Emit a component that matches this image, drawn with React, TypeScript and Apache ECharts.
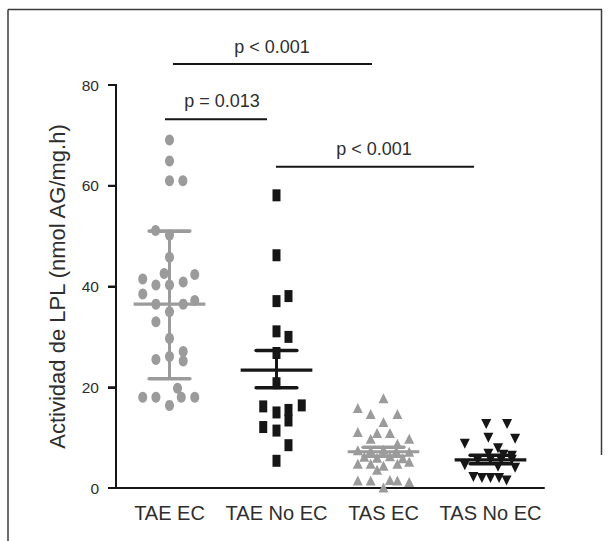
import React, { useEffect, useRef } from "react";
import * as echarts from "echarts";

const categories = ["TAE EC", "TAE No EC", "TAS EC", "TAS No EC"];
const yTicks = [0, 20, 40, 60, 80];

// TAE EC (grey circles)
const taeEcValues = [69.1, 64.9, 61.0, 61.0, 51.1, 50.2, 45.8, 42.6, 42.4, 41.5, 40.3, 40.3, 40.9, 38.5, 36.5, 36.5, 37.2, 35.0, 33.0, 29.7, 25.5, 26.1, 27.1, 25.2, 18.0, 18.0, 19.8, 18.0, 18.0, 16.4];
const taeEcJitter = [0, 0, 0, 0.125, -0.13, 0, 0, -0.05, 0.236, -0.25, -0.127, 0, 0.128, -0.25, -0.127, 0.128, 0.236, 0, -0.127, 0, -0.127, 0, 0.128, 0.128, -0.25, -0.127, 0.075, 0.11, 0.236, 0];

// TAE No EC (black squares)
const taeNoEcValues = [58.1, 46.2, 37.1, 38.1, 31.1, 30.0, 26.8, 20.8, 16.2, 15.0, 15.5, 13.4, 16.4, 12.1, 11.4, 8.5, 5.4];
const taeNoEcJitter = [0, 0, 0, 0.112, 0, 0.112, 0, 0, -0.124, 0, 0.112, 0.112, 0.236, -0.124, 0, 0.112, 0];

// TAS EC (grey triangles)
const tasEcValues = [17.8, 15.9, 14.7, 14.7, 13.1, 11.1, 10.9, 10.9, 9.8, 9.8, 8.8, 7.5, 7.4, 7.6, 7.3, 7.2, 6.2, 6.0, 6.3, 5.9, 4.8, 4.8, 4.4, 4.8, 5.2, 3.6, 1.5, 1.5, 1.6, 1.5, 1.2, 0.1];
const tasEcJitter = [0, -0.24, -0.12, 0.13, 0, -0.24, -0.06, 0.06, -0.12, 0.24, 0.13, -0.24, -0.12, 0, 0.12, 0.24, -0.18, -0.06, 0.06, 0.18, -0.24, -0.12, 0, 0.13, 0.24, -0.06, -0.24, -0.12, 0.06, 0.13, 0.24, 0];

// TAS No EC (black inverted triangles)
const tasNoEcValues = [12.7, 12.7, 10.0, 9.8, 8.8, 7.9, 6.8, 6.6, 6.4, 5.5, 5.6, 5.5, 5.6, 4.5, 4.0, 4.2, 2.2, 2.0, 2.0, 2.0, 1.5];
const tasNoEcJitter = [-0.04, 0.155, -0.02, 0.23, -0.24, 0.07, -0.02, 0.12, 0.2, -0.12, 0, 0.1, 0.2, -0.24, 0.23, 0.07, -0.16, -0.08, 0, 0.08, 0.15];

// mean and error bars
const meanValues = [36.5, 23.4, 7.2, 5.6];
const lowerValues = [21.7, 19.9, 6.3, 4.8];
const upperValues = [51.0, 27.3, 8.1, 6.5];

const GREY = "#9b9b9b";
const BLACK = "#161616";
const TEXT = "#2e2e2e";
const groupColors = [GREY, BLACK, GREY, BLACK];
const FONT = "Liberation Sans";

// category i is centred at i + 0.5 on the hidden value axis (0..4)
function pts(idx: number, vals: number[], jit: number[]) {
  return vals.map((v, i) => [idx + 0.5 + jit[i], v]);
}

export default function App() {
  const ref = useRef<HTMLDivElement>(null);
  useEffect(() => {
    if (!ref.current) return;
    const chart = echarts.init(ref.current, undefined, { renderer: "svg" });
    const barData = categories.map((_, i) => [i + 0.5, meanValues[i], lowerValues[i], upperValues[i]]);
    const yMax = yTicks[yTicks.length - 1];
    const annotations: any[] = [
      { type: "line", shape: { x1: 8, y1: 9.5, x2: 602, y2: 9.5 }, style: { stroke: "#3a3a3a", lineWidth: 1.5 } },
      { type: "line", shape: { x1: 8, y1: 9.5, x2: 8, y2: 541 }, style: { stroke: "#3a3a3a", lineWidth: 1.5 } },
      { type: "line", shape: { x1: 601.5, y1: 9.5, x2: 601.5, y2: 455 }, style: { stroke: "#3a3a3a", lineWidth: 1.5 } },
      { type: "line", shape: { x1: 173, y1: 64, x2: 372, y2: 64 }, style: { stroke: BLACK, lineWidth: 2 } },
      { type: "text", x: 272, y: 47, style: { text: "p < 0.001", fill: TEXT, fontSize: 18, fontFamily: FONT, align: "center", verticalAlign: "middle" } },
      { type: "line", shape: { x1: 165, y1: 119.3, x2: 267, y2: 119.3 }, style: { stroke: BLACK, lineWidth: 2 } },
      { type: "text", x: 222, y: 100.5, style: { text: "p = 0.013", fill: TEXT, fontSize: 18, fontFamily: FONT, align: "center", verticalAlign: "middle" } },
      { type: "line", shape: { x1: 276, y1: 166.7, x2: 474, y2: 166.7 }, style: { stroke: BLACK, lineWidth: 2 } },
      { type: "text", x: 374, y: 148.5, style: { text: "p < 0.001", fill: TEXT, fontSize: 18, fontFamily: FONT, align: "center", verticalAlign: "middle" } },
    ];
    const option: any = {
      animation: false,
      backgroundColor: "#ffffff",
      grid: { left: 116, right: 66, top: 85, bottom: 53, containLabel: false },
      xAxis: [
        {
          type: "category",
          data: categories,
          boundaryGap: true,
          axisLine: { lineStyle: { color: BLACK, width: 2 } },
          axisTick: { alignWithLabel: true, length: 8, lineStyle: { color: BLACK, width: 2 } },
          axisLabel: { color: TEXT, fontSize: 20, fontFamily: FONT, margin: 15, interval: 0 },
          splitLine: { show: false },
        },
        { type: "value", min: 0, max: 4, show: false },
      ],
      yAxis: {
        type: "value",
        min: 0,
        max: yMax,
        interval: 20,
        name: "Actividad de LPL (nmol AG/mg.h)",
        nameLocation: "middle",
        nameGap: 48,
        nameTextStyle: { color: TEXT, fontSize: 22, fontFamily: FONT },
        axisLine: { show: true, onZero: false, lineStyle: { color: BLACK, width: 2 } },
        axisTick: { show: true, length: 8, lineStyle: { color: BLACK, width: 2 } },
        axisLabel: { color: TEXT, fontSize: 15.5, fontFamily: FONT, margin: 17, formatter: (v: number) => (yTicks.includes(v) ? String(v) : "") },
        splitLine: { show: false },
      },
      series: [
        { type: "scatter", xAxisIndex: 1, symbol: "circle", symbolSize: [9, 11], itemStyle: { color: GREY, opacity: 1 }, data: pts(0, taeEcValues, taeEcJitter), z: 2 },
        { type: "scatter", xAxisIndex: 1, symbol: "rect", symbolSize: [8, 12], itemStyle: { color: BLACK, opacity: 1 }, data: pts(1, taeNoEcValues, taeNoEcJitter), z: 2 },
        { type: "scatter", xAxisIndex: 1, symbol: "triangle", symbolSize: [10, 10], itemStyle: { color: GREY, opacity: 1 }, data: pts(2, tasEcValues, tasEcJitter), z: 2 },
        { type: "scatter", xAxisIndex: 1, symbol: "triangle", symbolRotate: 180, symbolSize: [10, 10], itemStyle: { color: BLACK, opacity: 1 }, data: pts(3, tasNoEcValues, tasNoEcJitter), z: 2 },
        {
          type: "custom",
          xAxisIndex: 1,
          z: 3,
          clip: false,
          data: barData,
          renderItem: (params: any, api: any) => {
            const x = api.value(0);
            const m = api.coord([x, api.value(1)]);
            const lo = api.coord([x, api.value(2)]);
            const hi = api.coord([x, api.value(3)]);
            const left = api.coord([x - 0.335, api.value(1)]);
            const right = api.coord([x + 0.335, api.value(1)]);
            const capL = api.coord([x - 0.19, api.value(1)])[0];
            const capR = api.coord([x + 0.19, api.value(1)])[0];
            const color = groupColors[params.dataIndex];
            return {
              type: "group",
              children: [
                { type: "line", shape: { x1: lo[0], y1: lo[1], x2: hi[0], y2: hi[1] }, style: { stroke: color, lineWidth: 3 } },
                { type: "line", shape: { x1: left[0], y1: m[1], x2: right[0], y2: m[1] }, style: { stroke: color, lineWidth: 3.2 } },
                { type: "line", shape: { x1: capL, y1: lo[1], x2: capR, y2: lo[1] }, style: { stroke: color, lineWidth: 3.6, lineCap: "round" } },
                { type: "line", shape: { x1: capL, y1: hi[1], x2: capR, y2: hi[1] }, style: { stroke: color, lineWidth: 3.6, lineCap: "round" } },
              ],
            };
          },
        },
      ],
      graphic: annotations,
    };
    chart.setOption(option);

    // y axis spine and ticks as graphic shapes, placed through the chart's scales
    try {
      const finder = { xAxisIndex: 1, yAxisIndex: 0 };
      const base = chart.convertToPixel(finder, [0, 0]) as number[];
      const top = chart.convertToPixel(finder, [0, yMax]) as number[];
      if (base && top && isFinite(base[0]) && isFinite(top[1])) {
        const axisEls: any[] = [
          { type: "line", z: 200, zlevel: 1, shape: { x1: base[0], y1: base[1] + 1, x2: top[0], y2: top[1] - 1 }, style: { stroke: BLACK, lineWidth: 2 } },
        ];
        yTicks.forEach((v) => {
          const p = chart.convertToPixel(finder, [0, v]) as number[];
          axisEls.push({ type: "line", z: 200, zlevel: 1, shape: { x1: p[0] - 8, y1: p[1], x2: p[0], y2: p[1] }, style: { stroke: BLACK, lineWidth: 2 } });
        });
        chart.setOption({ graphic: [...annotations, ...axisEls] });
      }
    } catch (e) {
      // keep the chart as drawn if conversion is unavailable
    }
    return () => chart.dispose();
  }, []);
  return <div ref={ref} style={{ position: "fixed", left: 0, top: 0, width: 610, height: 541 }} />;
}
